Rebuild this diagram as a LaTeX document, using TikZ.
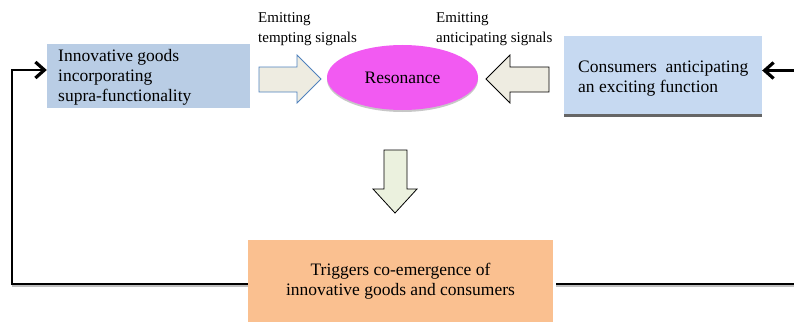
\documentclass[tikz,border=0pt]{standalone}
\usepackage{fontspec}
\setmainfont{Liberation Serif}
\usetikzlibrary{arrows.meta,shapes.geometric,calc}
\definecolor{goodsblue}{HTML}{B9CDE5}
\definecolor{consblue}{HTML}{C6D9F1}
\definecolor{resmag}{HTML}{F25AF2}
\definecolor{arrowfill}{HTML}{EEECE1}
\definecolor{downfill}{HTML}{EBF1DE}
\definecolor{trigorange}{HTML}{FAC090}
\definecolor{arrowblue}{HTML}{4F81BD}
\begin{document}
\begin{tikzpicture}[x=1pt,y=-1pt,
  mainfont/.style={font=\fontsize{17.5}{20}\selectfont},
  labelfont/.style={font=\fontsize{15}{20}\selectfont},
  box/.style={mainfont, inner sep=0pt, draw=none},
  txt/.style={mainfont, align=left, anchor=west, inner sep=0pt},
  lbl/.style={labelfont, align=left, anchor=north west, inner sep=0pt},
  loopline/.style={line width=2.6pt, line cap=butt, line join=miter},
  tipbarb/.style={-{Straight Barb[length=9pt,width=16pt,line width=3.2pt]}},
  shadowline/.style={line width=1.4pt, draw=black!25},
  blockarrow/.style={fill=arrowfill, line width=0.8pt, line join=miter},
]
\useasboundingbox (0,0) rectangle (794,321);
\clip (0,0) rectangle (794,321);

% boxes
\node[box, fill=goodsblue, minimum width=203pt, minimum height=64pt] (goods) at (148.5,76) {};
\node[txt] (goodstext) at (58,77) {Innovative goods\\incorporating\\supra-functionality};

\fill[black!60] (564,114) rectangle (762,116.5);
\node[box, fill=consblue, minimum width=198pt, minimum height=78pt] (cons) at (663,75) {};
\node[txt] (constext) at (578,79) {Consumers\ \ anticipating\\an exciting function};

\fill[black!22] (402.5,79.5) ellipse (75.5 and 32.5);
\node[ellipse, fill=resmag, minimum width=151pt, minimum height=65pt, inner sep=0pt, mainfont] (res) at (402.5,77.5) {Resonance};

\node[box, fill=trigorange, minimum width=305pt, minimum height=82pt, align=center] (trig) at (400.5,281) {Triggers co-emergence of\\innovative goods and consumers};

% labels
\node[lbl] (lab1) at (258,12) {Emitting\\tempting signals};
\node[lbl] (lab2) at (436,12) {Emitting\\anticipating signals};

% block arrows
\draw[blockarrow, draw=arrowblue] (259,67) -- (297,67) -- (297,55) -- (321,79) -- (297,103) -- (297,92) -- (259,92) -- cycle;
\draw[blockarrow, draw=black] (549,67) -- (510,67) -- (510,55) -- (486,79) -- (510,103) -- (510,92) -- (549,92) -- cycle;
\draw[blockarrow, fill=downfill, draw=black] (384,150) -- (407,150) -- (407,189) -- (417,189) -- (395,213) -- (373,189) -- (384,189) -- cycle;

% feedback loop
\coordinate (lb) at (12,284);
\coordinate (lt) at (12,70);
\coordinate (rb) at (805,284);
\coordinate (rt) at (805,70.5);
\draw[shadowline] ($(trig.west |- lb)+(0,2)$) -- ($(lb)+(0,2)$);
\draw[shadowline] ($(trig.east |- rb)+(3,2)$) -- ($(rb)+(0,2)$);
\draw[loopline, tipbarb] (trig.west |- lb) -- (lb) -- (lt) -- (goods.west |- lt);
\draw[loopline, tipbarb, shorten <=3pt] (trig.east |- rb) -- (rb) -- (rt) -- (cons.east |- rt);
\end{tikzpicture}
\end{document}
